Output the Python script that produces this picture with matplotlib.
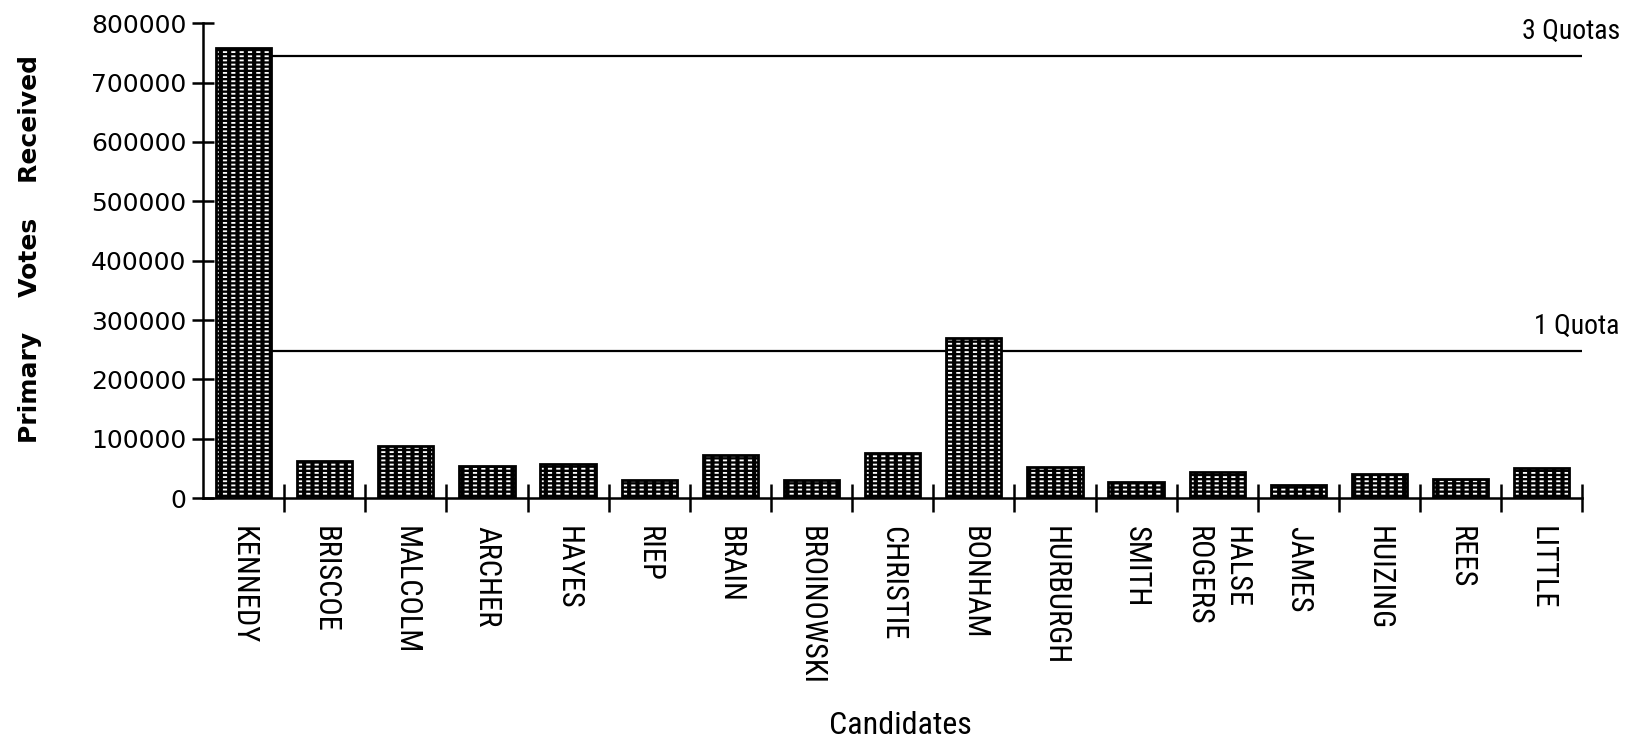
import matplotlib.pyplot as plt
import matplotlib.font_manager as fm

# candidates and primary votes
candidates = ['KENNEDY', 'BRISCOE', 'MALCOLM', 'ARCHER', 'HAYES', 'RIEP', 'BRAIN',
              'BROINOWSKI', 'CHRISTIE', 'BONHAM', 'HURBURGH', 'SMITH',
              'HALSE\nROGERS', 'JAMES', 'HUIZING', 'REES', 'LITTLE']
votes = [758000, 63000, 88000, 54000, 58000, 31000, 72000, 30000, 76000,
         269000, 53000, 27000, 45000, 23000, 40000, 32000, 51000]
quota = 248000
quota_lines = [3 * quota, quota]
quota_labels = ['3 Quotas', '1 Quota']
y_ticks = [0, 100000, 200000, 300000, 400000, 500000, 600000, 700000, 800000]

# pick a condensed face if one happens to be installed
names = {f.name for f in fm.fontManager.ttflist}
narrow = ['DejaVu Sans']
for cand in ['Liberation Sans Narrow', 'Roboto Condensed', 'Open Sans Condensed', 'DejaVu Sans Condensed']:
    if cand in names:
        narrow = [cand, 'DejaVu Sans']
        break

fig = plt.figure(figsize=(16.5, 7.47), dpi=100)
ax = fig.add_axes([0.123, 0.333, 0.836, 0.636])

x = list(range(len(candidates)))
w = 0.68
# brick-like fill: black bar with white horizontal hatch, chopped into dashes
# by a black vertical hatch on top, then a plain outline
with plt.rc_context({'hatch.linewidth': 1.3}):
    ax.bar(x, votes, width=w, color='black', edgecolor='white', hatch='----', linewidth=0, zorder=2)
with plt.rc_context({'hatch.linewidth': 3.0}):
    ax.bar(x, votes, width=w, fill=False, edgecolor='black', hatch='||', linewidth=0, zorder=3)
ax.bar(x, votes, width=w, fill=False, edgecolor='black', linewidth=2.0, zorder=4)

for val, lab in zip(quota_lines, quota_labels):
    ax.hlines(val, w / 2, len(candidates) - 0.5, color='black', linewidth=1.6, zorder=1)
    ax.annotate(lab, xy=(len(candidates) - 0.5, val), xytext=(27, 8), textcoords='offset points',
                ha='right', va='bottom', fontsize=20, family=narrow)

ax.set_xlim(-0.5, len(candidates) - 0.5)
ax.set_ylim(0, 800000)

ax.spines['top'].set_visible(False)
ax.spines['right'].set_visible(False)
ax.spines['left'].set_linewidth(1.8)
ax.spines['bottom'].set_linewidth(1.8)

ax.set_yticks(y_ticks)
ax.set_yticklabels([str(v) for v in y_ticks])
ax.tick_params(axis='y', direction='inout', length=16, width=1.8, labelsize=18, pad=4)

ax.set_xticks(x)
ax.set_xticklabels(candidates, rotation=-90, ha='center', va='top', fontsize=22,
                   family=narrow, multialignment='left', linespacing=1.4)
ax.tick_params(axis='x', which='major', length=0, pad=20)
ax.set_xticks([i + 0.5 for i in x], minor=True)
ax.tick_params(axis='x', which='minor', direction='inout', length=20, width=1.8)

fig.text(30 / 1650, 1 - 249 / 747, 'Primary    Votes    Received', rotation=90,
         ha='center', va='center', fontsize=18, fontweight='bold')
fig.text(900 / 1650, 1 - 726 / 747, 'Candidates', ha='center', va='center',
         fontsize=23, family=narrow)

fig.savefig('out.png', dpi=100)
